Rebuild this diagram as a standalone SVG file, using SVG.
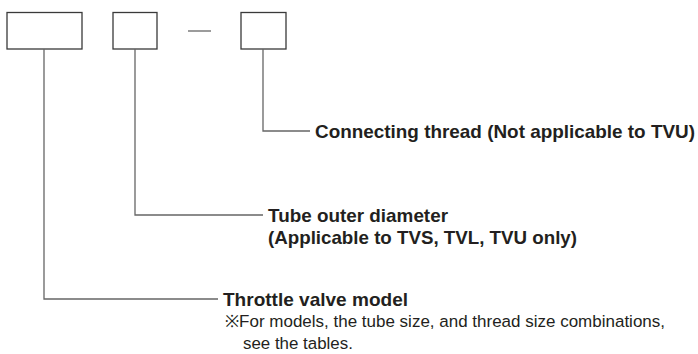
<svg xmlns="http://www.w3.org/2000/svg" width="698" height="354" viewBox="0 0 698 354">
<style>
.box{fill:#fff;stroke:#3a3a3a;stroke-width:1.3}
.ln{fill:none;stroke:#666;stroke-width:1.3}
.b{font-family:"Liberation Sans",Arial,sans-serif;font-weight:bold;font-size:18.5px;fill:#231f20}
.r{font-family:"Liberation Sans",Arial,sans-serif;font-size:16.9px;fill:#231f20}
</style>
<rect width="698" height="354" fill="#fff"/>
<g id="box-model"><rect class="box" x="7" y="12.5" width="75" height="36.5"/></g>
<g id="box-tube"><rect class="box" x="113" y="12.5" width="44" height="36.5"/></g>
<g id="dash"><path class="ln" d="M188 31H211" stroke="#444"/></g>
<g id="box-thread"><rect class="box" x="241" y="12.5" width="45" height="36.5"/></g>
<g id="connectors">
<path class="ln" d="M44 49V299H218"/>
<path class="ln" d="M135 49V215H263"/>
<path class="ln" d="M263 49V131H310"/>
</g>
<g id="label-thread"><text class="b" x="315" y="137.5" textLength="380" lengthAdjust="spacingAndGlyphs">Connecting thread (Not applicable to TVU)</text></g>
<g id="label-tube">
<text class="b" x="268" y="221.5" textLength="180" lengthAdjust="spacingAndGlyphs">Tube outer diameter</text>
<text class="b" x="268" y="244" textLength="309" lengthAdjust="spacingAndGlyphs">(Applicable to TVS, TVL, TVU only)</text>
</g>
<g id="label-model">
<text class="b" x="223" y="305.5" textLength="185" lengthAdjust="spacingAndGlyphs">Throttle valve model</text>
<text class="r" x="225" y="327" textLength="440" lengthAdjust="spacingAndGlyphs">※For models, the tube size, and thread size combinations,</text>
<text class="r" x="243" y="348.5">see the tables.</text>
</g>
</svg>
